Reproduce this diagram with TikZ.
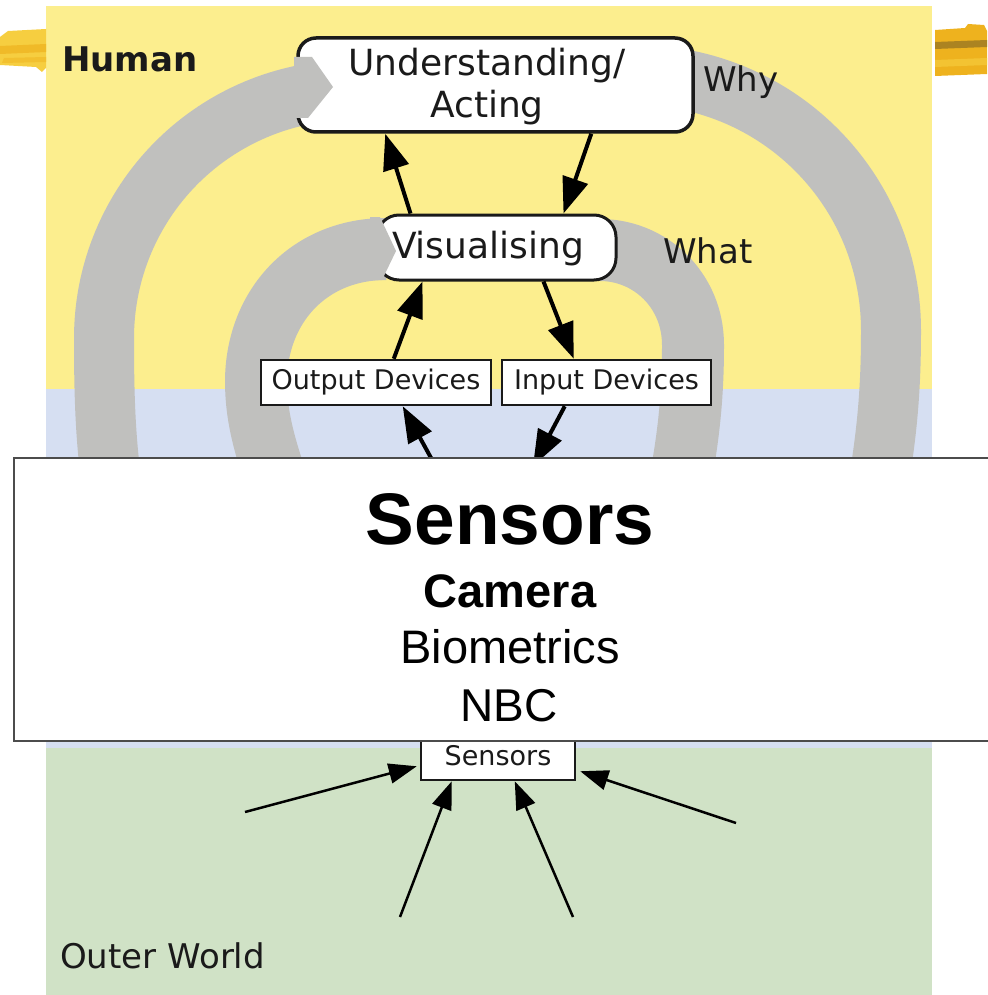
\documentclass[tikz,border=0pt]{standalone}
\usepackage{fontspec}
\usetikzlibrary{arrows.meta,calc}
\newfontfamily\dvsans{DejaVu Sans}
\newfontfamily\arialike{Liberation Sans}

\definecolor{bgyellow}{RGB}{252,238,142}
\definecolor{bgblue}{RGB}{214,223,242}
\definecolor{bggreen}{RGB}{208,226,198}
\definecolor{ringgray}{RGB}{192,192,190}
\definecolor{smudgeA}{RGB}{246,206,64}
\definecolor{smudgeB}{RGB}{238,178,30}
\definecolor{ink}{RGB}{26,26,26}

\begin{document}
\begin{tikzpicture}[x=1pt,y=-1pt,
  ring/.style={draw=ringgray, line width=60pt, line cap=butt, line join=round},
  stage/.style={draw=ink, line width=3.5pt, fill=white, rounded corners=18pt, inner sep=0pt},
  device/.style={draw=ink, line width=2.5pt, fill=white, inner sep=0pt, text=ink,
                 font=\dvsans\fontsize{27}{32}\selectfont},
  lbl/.style={inner sep=0pt, text=ink, font=\dvsans\fontsize{36}{42}\selectfont},
  arr/.style={draw=black, line width=4pt, -{Triangle[length=36pt,width=26pt]}},
  sarr/.style={draw=black, line width=2.5pt, -{Triangle[length=28pt,width=20pt]}},
  paneltext/.style={inner sep=0pt, anchor=base, text=black}]

\useasboundingbox (0,0) rectangle (987,995);

% three zones
\fill[bgyellow] (46,6) rectangle (932,389);
\fill[bgblue]   (46,389) rectangle (932,748);
\fill[bggreen]  (46,748) rectangle (932,995);

% outer loop (Why): right arm starts behind the top stage, left arm ends in it
\draw[ring] plot[domain=265:360, samples=60] ({636+255*cos(\x)},{330+255*sin(\x)})
  .. controls (891,400) and (886,450) .. (868,540);
\draw[ring] plot[domain=259.3:180, samples=60] ({352+248*cos(\x)},{338+248*sin(\x)})
  .. controls (104,410) and (106,470) .. (122,540);

% inner loop (What)
\draw[ring, line width=62pt] (386,249) .. controls (310,249) and (257,305) .. (256,380)
  .. controls (256,420) and (265,450) .. (290,520);
\draw[ring, line width=62pt] (600,250) .. controls (650,250) and (693,290) .. (693,345)
  .. controls (693,400) and (688,450) .. (672,520);

% stages
\node[stage, minimum width=395pt, minimum height=94pt] (und) at (495.5,85) {};
\node[lbl, align=center] (undtxt) at (487,87) {Understanding/\\Acting};
\node[stage, line width=3pt, rounded corners=22pt, minimum width=239pt, minimum height=65pt]
  (vis) at (496.5,247.5) {};
\node[lbl, anchor=base] (vistxt) at (488,258) {Visualising};

% loop heads entering the stages
\fill[ringgray] (294,57) -- (312,57) -- (333,87) -- (308,118) -- (294,118) -- cycle;
\fill[ringgray] (370,217) -- (380,217) -- (396,251) -- (382,280) -- (370,280) -- cycle;

% devices
\node[device, minimum width=230pt, minimum height=45pt] (out) at (376,382.5) {Output Devices};
\node[device, minimum width=209pt, minimum height=45pt] (in) at (606.5,382.5) {Input Devices};
\node[device, font=\dvsans\fontsize{27}{30}\selectfont, minimum width=154pt, minimum height=47pt]
  (sens) at (498,756.5) {\raisebox{3pt}{Sensors}};

% zone and loop labels
\node[inner sep=0pt, anchor=base west, text=ink, font=\dvsans\bfseries\fontsize{34}{40}\selectfont]
  (human) at (62,72) {Human};
\node[inner sep=0pt, anchor=base west, text=ink, font=\dvsans\fontsize{34}{40}\selectfont]
  (why) at (703,92) {Why};
\node[inner sep=0pt, anchor=base west, text=ink, font=\dvsans\fontsize{34}{40}\selectfont]
  (what) at (663,263) {What};
\node[inner sep=0pt, anchor=base west, text=ink, font=\dvsans\fontsize{34}{40}\selectfont]
  (outer) at (60,968) {Outer World};

% free ends
\coordinate (lowA) at (442,478);
\coordinate (lowB) at (533,466);
\coordinate (wL)  at (245,812);
\coordinate (wBL) at (400,917);
\coordinate (wBR) at (573,917);
\coordinate (wR)  at (736,823);

% flow arrows
\draw[arr] ($(vis.north west)+(35,0)$) -- ($(und.south west)+(89,0)$);
\draw[arr] ($(und.south west)+(295,0)$) -- ($(vis.north west)+(188,0)$);
\draw[arr] ($(out.north west)+(134,0)$) -- ($(vis.south west)+(47,0)$);
\draw[arr] ($(vis.south west)+(168,0)$) -- ($(in.north west)+(73,0)$);
\draw[arr] (lowA) -- ($(out.south west)+(143,0)$);
\draw[arr] ($(in.south west)+(64,0)$) -- (lowB);

\draw[sarr] (wL)  -- ($(sens.south west)+(-3,-15)$);
\draw[sarr] (wBL) -- ($(sens.south west)+(32,0)$);
\draw[sarr] (wBR) -- ($(sens.south west)+(95,0)$);
\draw[sarr] (wR)  -- ($(sens.south east)+(4,-10)$);

% sensors panel
\draw[fill=white, draw=black!70, line width=1.3pt] (14,458) rectangle (992,741);
\node[paneltext, font=\arialike\bfseries\fontsize{73}{80}\selectfont] (ptitle) at (510,544) {Sensors};
\node[paneltext, font=\arialike\bfseries\fontsize{47}{54}\selectfont] (pcam) at (510,607) {Camera};
\node[paneltext, font=\arialike\fontsize{47}{54}\selectfont] (pbio) at (510,663) {Biometrics};
\node[paneltext, font=\arialike\fontsize{46}{54}\selectfont] (pnbc) at (509,721) {NBC};

% brush marks at the edges
\fill[smudgeA] (8,31) -- (46,29) -- (46,68) -- (42,72) -- (36,67) -- (0,65) -- (0,37) -- cycle;
\fill[smudgeB!70!smudgeA] (0,46) -- (46,44) -- (46,52) -- (0,54) -- cycle;
\fill[smudgeB!50!smudgeA] (4,58) -- (46,57) -- (46,62) -- (2,63) -- cycle;
\fill[smudgeB] (935,30) -- (965,28) -- (968,24) -- (984,25) -- (987,31) -- (987,74) -- (935,76) -- cycle;
\fill[smudgeB!70!black!95] (935,42) -- (987,40) -- (987,47) -- (935,49) -- cycle;
\fill[smudgeA!60!smudgeB] (935,60) -- (987,58) -- (987,65) -- (935,67) -- cycle;
\end{tikzpicture}
\end{document}
